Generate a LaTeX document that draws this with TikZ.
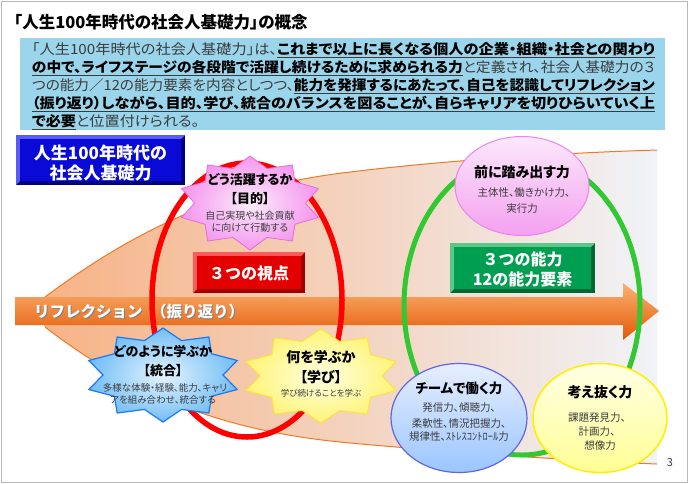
\documentclass[tikz,border=0pt]{standalone}
\usepackage{fontspec}
\usepackage{graphicx}
\setmainfont{Noto Sans CJK JP}
\newfontfamily\jpp[CharacterWidth=AlternateProportional]{Noto Sans CJK JP}
\usetikzlibrary{shapes.geometric}
\definecolor{dgray}{RGB}{60,60,60}
\definecolor{descbg}{RGB}{155,213,235}
\definecolor{funline}{RGB}{240,120,40}
\definecolor{fun1}{RGB}{247,178,132}
\definecolor{fun2}{RGB}{249,196,158}
\definecolor{fun3}{RGB}{240,243,248}
\definecolor{arr1}{RGB}{250,178,115}
\definecolor{arr2}{RGB}{245,125,40}
\definecolor{arr3}{RGB}{228,88,5}
\definecolor{gring}{RGB}{50,200,50}
\definecolor{bmain}{RGB}{10,10,215}
\definecolor{blight}{RGB}{90,90,245}
\definecolor{bdark}{RGB}{0,0,130}
\definecolor{rmain}{RGB}{228,0,0}
\definecolor{rlight}{RGB}{255,90,90}
\definecolor{rdark}{RGB}{160,0,0}
\definecolor{gmain}{RGB}{0,158,80}
\definecolor{glight}{RGB}{90,200,135}
\definecolor{gdark}{RGB}{0,105,50}
\definecolor{psin}{RGB}{253,236,252}
\definecolor{psout}{RGB}{244,150,238}
\definecolor{psdraw}{RGB}{228,110,222}
\definecolor{bsin}{RGB}{228,244,255}
\definecolor{bsout}{RGB}{115,190,245}
\definecolor{bsdraw}{RGB}{30,120,240}
\definecolor{ysin}{RGB}{255,255,225}
\definecolor{ysout}{RGB}{255,244,120}
\definecolor{ysdraw}{RGB}{255,228,60}
\definecolor{pedraw}{RGB}{238,130,238}
\definecolor{petop}{RGB}{252,232,252}
\definecolor{pebot}{RGB}{244,160,240}
\definecolor{bedraw}{RGB}{100,100,230}
\definecolor{betop}{RGB}{230,238,255}
\definecolor{bebot}{RGB}{155,198,255}
\definecolor{yedraw}{RGB}{255,238,0}
\definecolor{yetop}{RGB}{255,255,228}
\definecolor{yebot}{RGB}{255,255,150}
\newsavebox\fitbox
\newcommand\fitline[2]{\sbox\fitbox{#2}\pgfmathsetmacro\fitf{#1/\wd\fitbox}\global\let\lastfit\fitf\scalebox{\fitf}[1]{\usebox\fitbox}}
\newcommand\ulb[1]{\vtop{\hbox{\bfseries\color{black}#1}\kern0.8pt\hrule height 1.1pt}}
\newcommand\bevbox[7]{%
  \fill[#7] (#1,#2) rectangle (#3,#4);
  \fill[#6] (#1,#2) -- (#3,#2) -- ({#3-4},{#2+4}) -- ({#1+4},{#2+4}) -- ({#1+4},{#4-4}) -- (#1,#4) -- cycle;
  \fill[#5] ({#1+4},{#2+4}) rectangle ({#3-4},{#4-4});}
\newcommand\starshape[6]{%
  \path[#1] plot[samples at={0,...,19}] ({#2+#4*ifthenelse(mod(\x,2)==0,1,#6)*cos(90+18*\x)},{#3+#5*ifthenelse(mod(\x,2)==0,1,#6)*sin(90+18*\x)}) -- cycle;}
\tikzset{
  every node/.style={inner sep=0pt, outer sep=0pt},
  boldt/.style={font=\jpp\fontsize{#1}{#1}\selectfont\bfseries, text=black},
  smallt/.style={font=\jpp\fontsize{#1}{#1}\selectfont, text=dgray},
  whitet/.style={font=\fontsize{#1}{#1}\selectfont\bfseries, text=white},
  desct/.style={anchor=base west, font=\jpp\fontsize{14}{14}\selectfont, text=dgray},
}
\begin{document}
\begin{tikzpicture}[x=1pt,y=-1pt]
\useasboundingbox (0,0) rectangle (690,483);
\fill[white] (0,0) rectangle (690,483);
\draw[gray!55, line width=1] (1,1) rectangle (687,482);

% title
\node[anchor=west, font=\jpp\fontsize{16.5}{16.5}\selectfont\bfseries] (title) at (14,22) {「人生100年時代の社会人基礎力」の概念};

% description box
\fill[descbg] (20,38) rectangle (665,130);
\node[desct] (d1) at (32,54.5) {\fitline{623}{「人生100年時代の社会人基礎力」は、\ulb{これまで以上に長くなる個人の企業・組織・社会との関わり}}};
\node[desct] (d2) at (32,72.5) {\fitline{623}{\ulb{の中で、ライフステージの各段階で活躍し続けるために求められる力}と定義され、社会人基礎力の３}};
\node[desct] (d3) at (32,90.5) {\fitline{623}{つの能力／12の能力要素を内容としつつ、\ulb{能力を発揮するにあたって、自己を認識してリフレクション}}};
\node[desct] (d4) at (32,108.5) {\fitline{623}{\ulb{（振り返り）しながら、目的、学び、統合のバランスを図ることが、自らキャリアを切りひらいていく上}}};
\node[desct] (d5) at (32,126.5) {\scalebox{\lastfit}[1]{\ulb{で必要}と位置付けられる。}};

% funnel
\path[left color=fun1, middle color=fun2, right color=fun3]
  (35,312) -- (45,297) .. controls (140,226) and (230,186) .. (350,172) .. controls (450,160) and (560,153) .. (657,150)
  -- (657,464) .. controls (560,460) and (450,452) .. (350,443) .. controls (230,432) and (140,400) .. (45,327) -- cycle;
\draw[funline, line width=1] (45,297) .. controls (140,226) and (230,186) .. (350,172) .. controls (450,160) and (560,153) .. (657,150);
\draw[funline, line width=1] (45,327) .. controls (140,400) and (230,432) .. (350,443) .. controls (450,452) and (560,460) .. (657,464);

% arrow
\path[top color=arr1, middle color=arr2, bottom color=arr3]
  (15,297) -- (623,297) -- (623,283) -- (659,311) -- (623,340) -- (623,325) -- (15,325) -- cycle;
\node[anchor=west, whitet=15.5, text=black!50] (refl-s) at (35,313) {リフレクション};
\node[anchor=west, whitet=15.5] (refl) at (34,312) {リフレクション};
\node[anchor=west, whitet=15.5, text=black!50] (furi-s) at (152,313) {（振り返り）};
\node[anchor=west, whitet=15.5] (furi) at (151,312) {（振り返り）};

% big ellipses
\draw[red, line width=5.5] (247,300) ellipse [x radius=95, y radius=137];
\draw[gring, line width=5] (522,305) ellipse [x radius=118, y radius=150];

% bevel boxes
\bevbox{16}{135}{185}{185}{bmain}{blight}{bdark}
\node[whitet=17] (tb1) at (100.5,153) {人生100年時代の};
\node[whitet=17] (tb2) at (100.5,173) {社会人基礎力};

\bevbox{193}{252}{305}{293}{rmain}{rlight}{rdark}
\node[whitet=16] (redbox) at (249,273) {３つの視点};

\bevbox{450}{243}{595}{293}{gmain}{glight}{gdark}
\node[whitet=16] (gb1) at (522.5,259) {３つの能力};
\node[whitet=16] (gb2) at (522.5,279) {12の能力要素};

% pink star
\starshape{inner color=psin, outer color=psout, draw=psdraw, line width=0.8}{250}{203}{72}{47}{0.77}
\node[boldt=13] (ps1) at (250,180) {どう活躍するか};
\node[boldt=13] (ps2) at (250,199) {【目的】};
\node[smallt=10] (ps3) at (250,216) {自己実現や社会貢献};
\node[smallt=10] (ps4) at (250,228) {に向けて行動する};

% blue star
\starshape{inner color=bsin, outer color=bsout, draw=bsdraw, line width=1.2}{163}{375}{78}{47}{0.77}
\node[boldt=13] (bs1) at (163,352) {どのように学ぶか};
\node[boldt=13] (bs2) at (163,371) {【統合】};
\node[smallt=9.5] (bs3) at (165,388) {多様な体験・経験、能力、キャリ};
\node[smallt=9.5] (bs4) at (163,400) {アを組み合わせ、統合する};

% yellow star
\starshape{inner color=ysin, outer color=ysout, draw=ysdraw, line width=1}{321}{376}{79}{47}{0.77}
\node[boldt=14] (ys1) at (321,357) {何を学ぶか};
\node[boldt=14] (ys2) at (321,377) {【学び】};
\node[smallt=8.5] (ys3) at (321,393) {学び続けることを学ぶ};

% pink ellipse
\node[ellipse, minimum width=134, minimum height=99, draw=pedraw, line width=1, top color=petop, bottom color=pebot] (pinkell) at (522,186) {};
\node[boldt=14] (pe1) at (522,172) {前に踏み出す力};
\node[smallt=10.5] (pe2) at (524,193) {主体性、働きかけ力、};
\node[smallt=10.5] (pe3) at (522,209) {実行力};

% blue ellipse
\node[ellipse, minimum width=136, minimum height=109, draw=bedraw, line width=1.2, top color=betop, bottom color=bebot] (blueell) at (459,418) {};
\node[boldt=13.5] (be1) at (459,388) {チームで働く力};
\node[smallt=10.5] (be2) at (459,408) {発信力、傾聴力、};
\node[smallt=10.5] (be3) at (459,424) {柔軟性、情況把握力、};
\node[smallt=10.5] (be4) at (459,437) {規律性、ｽﾄﾚｽｺﾝﾄﾛｰﾙ力};

% yellow ellipse
\node[ellipse, minimum width=134, minimum height=109, draw=yedraw, line width=1.5, top color=yetop, bottom color=yebot] (yellell) at (600,418) {};
\node[boldt=14] (ye1) at (600,392) {考え抜く力};
\node[smallt=10.5] (ye2) at (597,418) {課題発見力、};
\node[smallt=10.5] (ye3) at (597,432) {計画力、};
\node[smallt=10.5] (ye4) at (600,446) {想像力};

\node[font=\fontsize{11}{11}\selectfont, text=dgray] (pageno) at (670,463) {3};
\end{tikzpicture}
\end{document}
